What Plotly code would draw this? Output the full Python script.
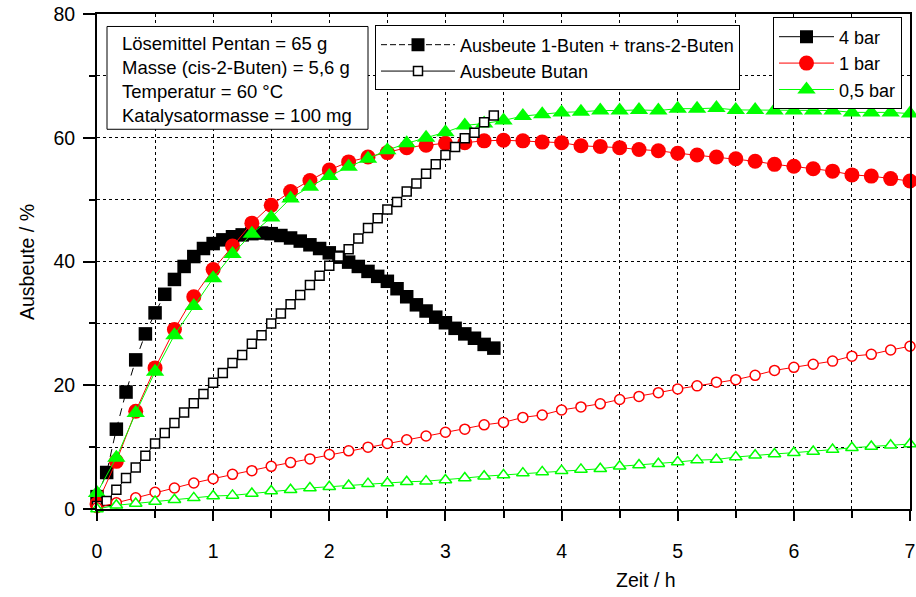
import plotly.graph_objects as go

# ---- data -------------------------------------------------------------
# sampling times in minutes
time_5min = [0, 5, 10, 15, 20, 25, 30, 35, 40, 45, 50, 55, 60, 65, 70, 75, 80, 85,
             90, 95, 100, 105, 110, 115, 120, 125, 130, 135, 140, 145, 150, 155,
             160, 165, 170, 175, 180, 185, 190, 195, 200, 205]
time_10min = [0, 10, 20, 30, 40, 50, 60, 70, 80, 90, 100, 110, 120, 130, 140, 150,
              160, 170, 180, 190, 200, 210, 220, 230, 240, 250, 260, 270, 280, 290,
              300, 310, 320, 330, 340, 350, 360, 370, 380, 390, 400, 410, 420]

# 4 bar: Ausbeute 1-Buten + trans-2-Buten (filled squares)
buten_4bar = [2.0, 5.9, 12.9, 18.9, 24.1, 28.3, 31.7, 34.7, 37.1, 39.2, 40.8, 42.1,
              42.9, 43.5, 44.0, 44.3, 44.5, 44.6, 44.5, 44.2, 43.8, 43.3, 42.7, 42.1,
              41.4, 40.7, 39.9, 39.2, 38.4, 37.6, 36.8, 35.6, 34.3, 33.0, 32.0, 31.0,
              30.1, 29.2, 28.3, 27.6, 26.6, 26.0]
# 4 bar: Ausbeute Butan (open squares)
butan_4bar = [0.5, 1.3, 3.1, 5.0, 6.7, 8.6, 10.6, 12.3, 13.9, 15.6, 17.1, 18.6,
              20.4, 22.0, 23.6, 24.9, 26.7, 28.1, 30.0, 31.6, 33.1, 34.6, 36.2, 37.7,
              39.3, 40.8, 42.0, 43.7, 45.4, 47.0, 48.4, 49.6, 51.3, 52.6, 54.2, 55.7,
              57.2, 58.5, 59.9, 60.8, 62.5, 63.6]
# 1 bar
buten_1bar = [0.8, 7.7, 15.8, 22.8, 29.0, 34.3, 38.7, 42.5, 46.2, 49.1, 51.3, 53.1,
              54.8, 56.1, 56.9, 57.6, 58.4, 58.8, 59.1, 59.2, 59.5, 59.6, 59.5, 59.3,
              59.2, 58.7, 58.6, 58.4, 58.1, 57.9, 57.5, 57.2, 56.9, 56.6, 56.2, 55.7,
              55.4, 55.0, 54.6, 54.0, 53.8, 53.4, 53.0]
butan_1bar = [0.2, 1.0, 1.8, 2.7, 3.4, 4.2, 4.9, 5.6, 6.2, 6.9, 7.5, 8.1, 8.8, 9.4,
              10.0, 10.6, 11.2, 11.8, 12.4, 12.9, 13.6, 14.0, 14.8, 15.2, 16.0, 16.5,
              17.0, 17.7, 18.2, 18.8, 19.4, 19.9, 20.5, 20.9, 21.6, 22.4, 22.9, 23.4,
              23.9, 24.7, 25.0, 25.7, 26.3]
# 0,5 bar
buten_05bar = [2.6, 8.3, 15.5, 22.2, 28.1, 32.8, 37.3, 41.2, 44.5, 47.1, 50.2, 52.1,
               53.8, 55.3, 56.6, 58.0, 59.1, 60.0, 60.9, 62.0, 62.3, 62.8, 63.5, 63.8,
               64.1, 64.2, 64.4, 64.4, 64.5, 64.4, 64.7, 64.7, 64.8, 64.5, 64.5, 64.4,
               64.4, 64.4, 64.4, 64.1, 64.1, 64.1, 63.9]
butan_05bar = [0.0, 0.6, 0.9, 1.2, 1.5, 1.8, 2.1, 2.2, 2.5, 2.9, 3.1, 3.4, 3.6, 3.8,
               4.1, 4.2, 4.4, 4.5, 4.7, 5.0, 5.3, 5.5, 5.8, 6.0, 6.2, 6.4, 6.5, 6.9,
               7.1, 7.3, 7.6, 7.9, 8.0, 8.4, 8.7, 8.9, 9.1, 9.3, 9.6, 9.9, 10.1, 10.3,
               10.5]

info_lines = ["Lösemittel Pentan = 65 g", "Masse (cis-2-Buten) = 5,6 g",
              "Temperatur = 60 °C", "Katalysatormasse = 100 mg"]
type_labels = ["Ausbeute 1-Buten + trans-2-Buten", "Ausbeute Butan"]
pressure_labels = ["4 bar", "1 bar", "0,5 bar"]

# ---- figure -----------------------------------------------------------
t5 = [m / 60 for m in time_5min]
t10 = [m / 60 for m in time_10min]

BLACK, RED, GREEN = "#000000", "#FF0000", "#00FF00"
FONT = "Liberation Sans, Arial, sans-serif"

fig = go.Figure()

def add(x, y, color, symbol, size, filled, dash="solid", lw=1):
    fig.add_trace(go.Scatter(
        x=x, y=y, mode="lines+markers", showlegend=False, cliponaxis=False,
        line=dict(color=color, width=lw, dash=dash),
        marker=dict(symbol=symbol, size=size,
                    color=color if filled else "white",
                    line=dict(color=color, width=0 if filled else 1.5)),
    ))

add(t5, buten_4bar, BLACK, "square", 13.5, True, dash="8px,6px")
add(t10, buten_1bar, RED, "circle", 15, True)
add(t10, buten_05bar, GREEN, "triangle-up", 16, True)
add(t5, butan_4bar, BLACK, "square", 9, False, lw=1)
add(t10, butan_1bar, RED, "circle", 10, False)
add(t10, butan_05bar, GREEN, "triangle-up", 11, False)

# legend-only entries
fig.add_trace(go.Scatter(x=[None], y=[None], mode="lines+markers", name=type_labels[0],
                         legend="legend2", line=dict(color=BLACK, width=1, dash="6px,3px"),
                         marker=dict(symbol="square", size=13, color=BLACK)))
fig.add_trace(go.Scatter(x=[None], y=[None], mode="lines+markers", name=type_labels[1],
                         legend="legend2", line=dict(color=BLACK, width=1),
                         marker=dict(symbol="square", size=9, color="white",
                                     line=dict(color=BLACK, width=1.5))))
for lab, col, sym, sz in zip(pressure_labels, [BLACK, RED, GREEN],
                             ["square", "circle", "triangle-up"], [13, 15, 16]):
    fig.add_trace(go.Scatter(x=[None], y=[None], mode="lines+markers", name=lab,
                             legend="legend3", line=dict(color=col, width=1),
                             marker=dict(symbol=sym, size=sz, color=col)))

W, H = 916, 597
L, R, T, B = 97, 6, 13.5, 87.5
pw, ph = W - L - R, H - T - B

def px(xp):
    return (xp - L) / pw

def py(yp):
    return (H - B - yp) / ph

grid = dict(gridcolor="#000000", griddash="dot", gridwidth=1)

fig.update_layout(
    width=W, height=H, margin=dict(l=L, r=R, t=T, b=B, autoexpand=False),
    paper_bgcolor="white", plot_bgcolor="white",
    font=dict(family=FONT, size=19, color="black"),
    xaxis=dict(range=[0, 7], dtick=1, tick0=0, showgrid=True, **grid,
               ticks="outside", ticklen=10, tickwidth=2, tickcolor="black",
               showline=True, linewidth=2, linecolor="black", mirror=True,
               zeroline=False, ticklabelstandoff=14,
               tickfont=dict(size=19.5),
               minor=dict(dtick=0.5, tick0=0, showgrid=True, ticks="outside",
                          ticklen=7, tickwidth=1.5, tickcolor="black", **grid)),
    yaxis=dict(range=[0, 80], dtick=20, tick0=0, showgrid=True, **grid,
               ticks="outside", ticklen=12, tickwidth=2, tickcolor="black",
               showline=True, linewidth=2, linecolor="black", mirror=True,
               zeroline=False, ticklabelstandoff=4,
               tickfont=dict(size=19.5),
               minor=dict(dtick=10, tick0=0, showgrid=True, ticks="outside",
                          ticklen=6, tickwidth=1.5, tickcolor="black", **grid)),
    legend2=dict(x=px(375), y=py(25), xanchor="left", yanchor="top",
                 bgcolor="white", bordercolor="black", borderwidth=1,
                 font=dict(size=18), itemwidth=74),
    legend3=dict(x=px(773), y=py(17), xanchor="left", yanchor="top",
                 bgcolor="white", bordercolor="black", borderwidth=1,
                 font=dict(size=18), itemwidth=55),
    showlegend=True,
)

# info box
fig.add_shape(type="rect", xref="paper", yref="paper",
              x0=px(107), x1=px(368), y0=py(129), y1=py(26),
              line=dict(color="black", width=1), fillcolor="white", layer="above")
fig.add_annotation(xref="paper", yref="paper", x=px(120), y=py(31),
                   xanchor="left", yanchor="top", align="left", showarrow=False,
                   text="<br>".join(info_lines), font=dict(size=18.5))

# axis titles
fig.add_annotation(xref="paper", yref="paper", x=px(646), y=py(581),
                   xanchor="center", yanchor="middle", showarrow=False,
                   text="Zeit / h", font=dict(size=19.5))
fig.add_annotation(xref="paper", yref="paper", x=px(27), y=py(262),
                   xanchor="center", yanchor="middle", showarrow=False,
                   textangle=-90, text="Ausbeute / %", font=dict(size=19.5))

fig.write_html("out.html")
